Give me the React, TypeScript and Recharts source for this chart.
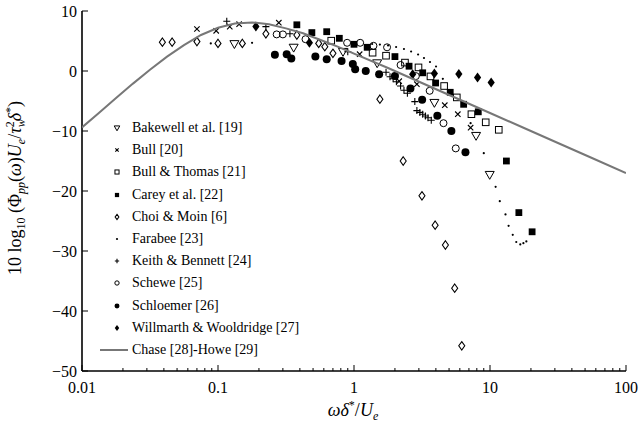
import React from "react"
import { ScatterChart, Scatter, XAxis, YAxis, Legend, Label } from "recharts"

type Pt = [number, number]

// values (x = ωδ*/Ue, y = dB)
const bakewell: Pt[] = [[0.132, 4.5], [0.36, 3.9], [0.83, 3.2], [1.48, 1.3], [3.9, -5.3], [7.9, -10.8], [9.95, -17.3]]
const bull: Pt[] = [[0.07, 7.0], [0.097, 6.7], [0.122, 7.4], [0.143, 7.8], [0.28, 8.05], [1.1, 2.8], [2.15, -1.7], [2.9, -2.2], [4.65, -5.7], [5.8, -7.2], [7.2, -9.45]]
const bullThomas: Pt[] = [[0.68, 5.05], [1.37, 3.05], [1.72, 2.55], [2.37, 1.4], [2.98, 0.6], [3.65, -0.9], [4.6, -2.5], [5.7, -4.4], [7.3, -7.2], [9.3, -8.55], [11.6, -9.8]]
const carey: Pt[] = [[0.38, 7.7], [0.49, 6.4], [0.63, 6.55], [0.78, 5.45], [1.0, 4.45], [1.25, 3.95], [2.0, 2.4], [2.54, 0.8], [3.2, -0.3], [3.98, -2.0], [5.1, -3.55], [6.4, -5.55], [8.2, -6.8], [13.2, -15.0], [16.3, -23.6], [20.4, -26.8]]
const choi: Pt[] = [[0.039, 4.8], [0.046, 4.8], [0.07, 4.9], [0.1, 4.6], [0.151, 4.6], [0.225, 6.2], [0.38, 6.0], [0.55, 4.6], [0.61, 4.05], [0.7, 2.95], [1.55, -4.7], [2.3, -15.0], [3.16, -20.8], [3.95, -25.7], [4.7, -29.0], [5.5, -36.2], [6.2, -45.8]]
const farabee: Pt[] = [[0.0885, 4.6], [0.178, 4.7], [1.36, 4.5], [1.55, 4.4], [1.78, 4.25], [2.04, 4.0], [2.33, 3.67], [2.63, 3.25], [2.96, 2.75], [3.27, 2.17], [3.62, 1.5], [4.01, 0.75], [4.5, -1.3], [7.2, -8.7], [9.0, -13.7], [11.0, -19.3], [11.8, -21.7], [13.0, -23.9], [13.7, -25.8], [14.7, -27.3], [15.6, -28.5], [16.7, -28.9], [17.6, -28.7], [18.5, -28.4]]
const keith: Pt[] = [[0.116, 8.3], [0.225, 7.4], [0.338, 6.2], [0.9, 3.2], [1.72, -0.2], [1.84, -0.95], [1.94, -1.3], [2.05, -1.8], [2.2, -2.5], [2.33, -3.2], [2.47, -3.7], [2.8, -5.1], [2.9, -6.6], [3.05, -6.9], [3.2, -7.2], [3.35, -7.5], [3.5, -7.8], [3.7, -8.2]]
const schewe: Pt[] = [[0.27, 6.1], [0.3, 6.1], [0.44, 5.3], [0.89, 4.7], [1.11, 4.7], [1.39, 4.2], [1.75, 3.95], [2.2, 1.0], [2.85, -0.85], [3.6, -3.3], [4.55, -8.7], [5.6, -12.9]]
const schloemer: Pt[] = [[0.262, 2.7], [0.32, 2.8], [0.346, 2.1], [0.52, 2.4], [0.63, 1.95], [0.81, 1.65], [0.98, 1.15], [1.02, 0.3], [1.22, 0.0], [1.53, -0.55], [2.0, -0.85], [2.6, -2.9], [3.17, -4.8], [4.1, -7.45], [5.2, -10.0], [6.6, -13.55]]
const willmarth: Pt[] = [[0.19, 7.4], [0.47, 4.7], [2.7, -0.55], [3.9, -0.4], [5.9, -0.5], [8.1, -1.1], [10.2, -1.9]]

const chaseX = [0.01, 0.0133, 0.0178, 0.0237, 0.0316, 0.0422, 0.0562, 0.075, 0.1, 0.133, 0.178, 0.237, 0.316, 0.422, 0.562, 0.75, 1, 1.78, 3.16, 5.62, 10, 17.8, 31.6, 56.2, 100]
const chaseY = [-9.4, -7.0, -4.5, -2.1, 0.2, 2.4, 4.3, 6.0, 7.2, 7.9, 8.1, 7.8, 7.1, 6.3, 5.2, 4.1, 2.9, 0.5, -2.0, -4.5, -7.0, -9.5, -12.0, -14.5, -17.0]

const X_MAJOR = [0.01, 0.1, 1, 10, 100]
const X_MAJOR_LABELS = ["0.01", "0.1", "1", "10", "100"]
const X_MINOR = [0.02, 0.03, 0.04, 0.05, 0.06, 0.07, 0.08, 0.09, 0.2, 0.3, 0.4, 0.5, 0.6, 0.7, 0.8, 0.9, 2, 3, 4, 5, 6, 7, 8, 9, 20, 30, 40, 50, 60, 70, 80, 90]
const Y_TICKS = [-50, -40, -30, -20, -10, 0, 10]

const X_TICKS = [...X_MAJOR, ...X_MINOR].sort((a, b) => a - b)
const FONT = "'Liberation Serif', 'Times New Roman', serif"

const pts = (a: Pt[]) => a.map(([x, y]) => ({ x, y }))
const chase = chaseX.map((x, i) => ({ x, y: chaseY[i] }))

type Kind = "tri" | "cross" | "sq" | "sqf" | "dia" | "dot" | "plus" | "circ" | "circf" | "diaf"

function Mark({ kind, cx, cy, s = 1 }: { kind: Kind; cx: number; cy: number; s?: number }) {
  const k = "#000"
  switch (kind) {
    case "tri": {
      const r = 4.5 * s
      return <path d={`M${cx - r},${cy - r * 0.75}H${cx + r}L${cx},${cy + r}Z`} fill="none" stroke={k} strokeWidth={1} />
    }
    case "cross": {
      const r = 2.7 * s
      return <path d={`M${cx - r},${cy - r}L${cx + r},${cy + r}M${cx - r},${cy + r}L${cx + r},${cy - r}`} stroke={k} strokeWidth={1.1} />
    }
    case "sq": {
      const r = 3.3 * s
      return <rect x={cx - r} y={cy - r} width={2 * r} height={2 * r} fill="none" stroke={k} strokeWidth={1} />
    }
    case "sqf": {
      const r = 3.4 * s
      return <rect x={cx - r} y={cy - r} width={2 * r} height={2 * r} fill={k} />
    }
    case "dia": {
      const w = 3 * s
      const h = 4.2 * s
      return <path d={`M${cx},${cy - h}L${cx + w},${cy}L${cx},${cy + h}L${cx - w},${cy}Z`} fill="none" stroke={k} strokeWidth={1.1} />
    }
    case "diaf": {
      const w = 3.6 * s
      const h = 5 * s
      return <path d={`M${cx},${cy - h}L${cx + w},${cy}L${cx},${cy + h}L${cx - w},${cy}Z`} fill={k} />
    }
    case "dot":
      return <circle cx={cx} cy={cy} r={1.1} fill={k} />
    case "plus": {
      const r = 3.5 * s
      return <path d={`M${cx - r},${cy}H${cx + r}M${cx},${cy - r}V${cy + r}`} stroke={k} strokeWidth={1.1} />
    }
    case "circ":
      return <circle cx={cx} cy={cy} r={3.5 * s} fill="none" stroke={k} strokeWidth={1} />
    case "circf":
      return <circle cx={cx} cy={cy} r={4 * s} fill={k} />
  }
  return null
}

const SERIES: { name: string; kind: Kind; data: Pt[] }[] = [
  { name: "Bakewell et al. [19]", kind: "tri", data: bakewell },
  { name: "Bull [20]", kind: "cross", data: bull },
  { name: "Bull & Thomas [21]", kind: "sq", data: bullThomas },
  { name: "Carey et al. [22]", kind: "sqf", data: carey },
  { name: "Choi & Moin [6]", kind: "dia", data: choi },
  { name: "Farabee [23]", kind: "dot", data: farabee },
  { name: "Keith & Bennett [24]", kind: "plus", data: keith },
  { name: "Schewe [25]", kind: "circ", data: schewe },
  { name: "Schloemer [26]", kind: "circf", data: schloemer },
  { name: "Willmarth & Wooldridge [27]", kind: "diaf", data: willmarth },
]

const BottomTick = (p: any) => {
  const { x, y, payload } = p
  const i = X_MAJOR.indexOf(payload.value)
  return (
    <g>
      <line x1={x} x2={x} y1={y} y2={y - (i >= 0 ? 6 : 3)} stroke="#000" strokeWidth={1} />
      {i >= 0 && (
        <text x={x} y={y + 22} textAnchor="middle" fontFamily={FONT} fontSize={16} fill="#000">
          {X_MAJOR_LABELS[i]}
        </text>
      )}
    </g>
  )
}

const TopTick = (p: any) => {
  const { x, y, payload } = p
  const major = X_MAJOR.includes(payload.value)
  return <line x1={x} x2={x} y1={y} y2={y + (major ? 6 : 3)} stroke="#000" strokeWidth={1} />
}

const LeftTick = (p: any) => {
  const { x, y, payload } = p
  const v = payload.value as number
  return (
    <g>
      <line x1={x} x2={x + 6} y1={y} y2={y} stroke="#000" strokeWidth={1} />
      <text x={x - 5} y={y + 5.5} textAnchor="end" fontFamily={FONT} fontSize={16} fill="#000">
        {v < 0 ? `\u2212${-v}` : `${v}`}
      </text>
    </g>
  )
}

const RightTick = (p: any) => {
  const { x, y } = p
  return <line x1={x} x2={x - 6} y1={y} y2={y} stroke="#000" strokeWidth={1} />
}

const XTitle = () => (
  <text x={353} y={416} textAnchor="middle" fontFamily={FONT} fontSize={18} fill="#000">
    <tspan fontStyle="italic">ωδ</tspan>
    <tspan dy={-7} fontSize={12}>*</tspan>
    <tspan dy={7}>/</tspan>
    <tspan fontStyle="italic">U</tspan>
    <tspan dy={4} fontSize={12} fontStyle="italic">e</tspan>
  </text>
)

const YTitle = () => (
  <text x={21} y={188} transform="rotate(-90 21 188)" textAnchor="middle" fontFamily={FONT} fontSize={18} fill="#000">
    <tspan>10 log</tspan>
    <tspan dy={4} fontSize={12}>10</tspan>
    <tspan dy={-4}> (Φ</tspan>
    <tspan dy={4} fontSize={12} fontStyle="italic">pp</tspan>
    <tspan dy={-4}>(</tspan>
    <tspan fontStyle="italic">ω</tspan>
    <tspan>)</tspan>
    <tspan fontStyle="italic">U</tspan>
    <tspan dy={4} fontSize={12} fontStyle="italic">e</tspan>
    <tspan dy={-4}>/</tspan>
    <tspan fontStyle="italic">τ</tspan>
    <tspan dy={4} fontSize={12} fontStyle="italic">w</tspan>
    <tspan dx={-8} dy={-11} fontSize={12}>2</tspan>
    <tspan dy={7} fontStyle="italic">δ</tspan>
    <tspan dy={-7} fontSize={12}>*</tspan>
    <tspan dy={7}>)</tspan>
  </text>
)

const textStyle: React.CSSProperties = { fontFamily: FONT, fontSize: 14, color: "#000", whiteSpace: "nowrap" }

const LegendBox = () => (
  <div style={textStyle}>
    {SERIES.map((s) => (
      <div key={s.name} style={{ height: 22.2, display: "flex", alignItems: "center" }}>
        <svg width={37} height={22} style={{ flex: "none" }}>
          <Mark kind={s.kind} cx={22} cy={11} s={0.62} />
        </svg>
        <span style={textStyle}>{s.name}</span>
      </div>
    ))}
    <div style={{ height: 22.2, display: "flex", alignItems: "center" }}>
      <svg width={37} height={22} style={{ flex: "none" }}>
        <line x1={5} x2={33} y1={11} y2={11} stroke="#777" strokeWidth={2} />
      </svg>
      <span style={textStyle}>Chase [28]-Howe [29]</span>
    </div>
  </div>
)

export default function App() {
  return (
    <div style={{ position: "absolute", left: 0, top: 0, background: "#fff", fontFamily: FONT }}>
      <ScatterChart width={639} height={427} margin={{ top: 11, right: 13, left: 22, bottom: 16 }}>
        <XAxis
          xAxisId={0}
          dataKey="x"
          type="number"
          scale="log"
          domain={[0.01, 100]}
          allowDataOverflow
          ticks={X_TICKS}
          interval={0}
          height={40}
          tickSize={0}
          tickMargin={0}
          tickLine={false}
          tick={BottomTick}
          axisLine={{ stroke: "#000", strokeWidth: 1.6 }}
        >
          <Label content={XTitle} />
        </XAxis>
        <XAxis
          xAxisId="top"
          orientation="top"
          dataKey="x"
          type="number"
          scale="log"
          domain={[0.01, 100]}
          allowDataOverflow
          ticks={X_TICKS}
          interval={0}
          height={0}
          tickSize={0}
          tickMargin={0}
          tickLine={false}
          tick={TopTick}
          axisLine={{ stroke: "#000", strokeWidth: 1.6 }}
        />
        <YAxis
          yAxisId={0}
          dataKey="y"
          type="number"
          domain={[-50, 10]}
          allowDataOverflow
          ticks={Y_TICKS}
          interval={0}
          width={60}
          tickSize={0}
          tickMargin={0}
          tickLine={false}
          tick={LeftTick}
          axisLine={{ stroke: "#000", strokeWidth: 1.6 }}
        >
          <Label content={YTitle} />
        </YAxis>
        <YAxis
          yAxisId="right"
          orientation="right"
          dataKey="y"
          type="number"
          domain={[-50, 10]}
          allowDataOverflow
          ticks={Y_TICKS}
          interval={0}
          width={0}
          tickSize={0}
          tickMargin={0}
          tickLine={false}
          tick={RightTick}
          axisLine={{ stroke: "#000", strokeWidth: 1.6 }}
        />
        {SERIES.map((s) => (
          <Scatter
            key={s.name}
            name={s.name}
            data={pts(s.data)}
            isAnimationActive={false}
            shape={(p: any) => <Mark kind={s.kind} cx={p.cx} cy={p.cy} />}
          />
        ))}
        <Scatter
          name="Chase [28]-Howe [29]"
          data={chase}
          isAnimationActive={false}
          line={{ stroke: "#777", strokeWidth: 2 }}
          shape={() => <g />}
        />
        <Legend
          layout="vertical"
          align="center"
          verticalAlign="middle"
          content={LegendBox}
          wrapperStyle={{ position: "absolute", left: 95, top: 117, width: 260, height: 250 }}
        />
      </ScatterChart>
    </div>
  )
}
